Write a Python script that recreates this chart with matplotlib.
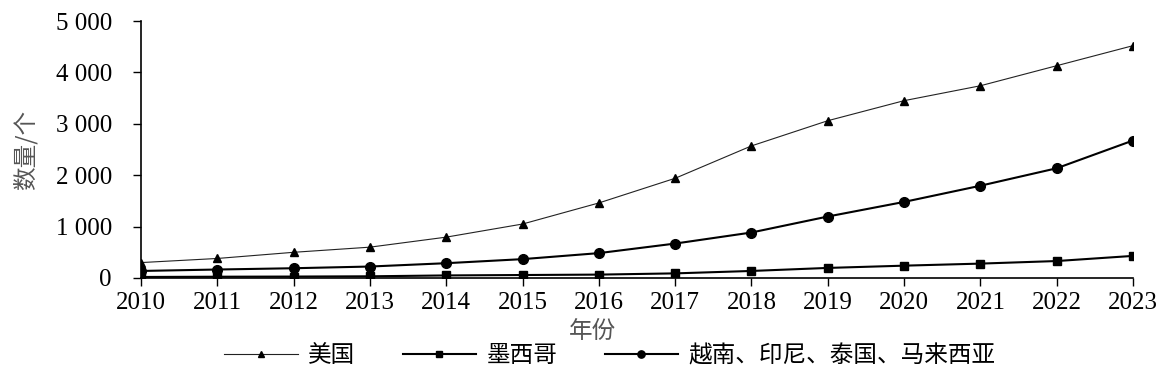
import matplotlib.pyplot as plt
from matplotlib.ticker import FuncFormatter

plt.rcParams['font.family'] = ['Liberation Serif', 'Noto Sans CJK SC']

years = [2010, 2011, 2012, 2013, 2014, 2015, 2016, 2017, 2018, 2019, 2020, 2021, 2022, 2023]
usa = [300, 380, 500, 600, 795, 1050, 1460, 1940, 2570, 3060, 3450, 3740, 4130, 4520]
mexico = [20, 25, 28, 33, 50, 58, 66, 90, 137, 196, 240, 280, 330, 430]
sea = [137, 165, 190, 223, 288, 367, 484, 670, 885, 1196, 1480, 1795, 2135, 2675]
labels = ['美国', '墨西哥', '越南、印尼、泰国、马来西亚']

fig = plt.figure(figsize=(11.61, 3.72), dpi=100)
ax = fig.add_axes([141 / 1161, 1 - 278 / 372, (1133 - 141) / 1161, (278 - 21) / 372])

ax.plot(years, usa, color='#222222', lw=0.8, marker='^', ms=6, mfc='black', mec='black', label=labels[0])
ax.plot(years, mexico, color='black', lw=1.5, marker='s', ms=5.5, label=labels[1])
ax.plot(years, sea, color='black', lw=1.5, marker='o', ms=7, label=labels[2])

ax.set_xlim(2010, 2023)
ax.set_ylim(0, 5000)
ax.set_xticks(years)
ax.set_yticks(range(0, 5001, 1000))
ax.yaxis.set_major_formatter(FuncFormatter(lambda v, p: f'{int(v):,}'.replace(',', ' ')))
ax.tick_params(labelsize=18, length=6, width=1, direction='out', colors='black')
ax.tick_params(axis='x', pad=4)
ax.tick_params(axis='y', pad=15)
for s in ['top', 'right']:
    ax.spines[s].set_visible(False)
for s in ['left', 'bottom']:
    ax.spines[s].set_linewidth(1.2)
ax.patch.set_visible(False)

fig.text(25 / 1161, 1 - 150 / 372, '数量/个', rotation=90, ha='center', va='center',
         fontsize=17, color='#555555', family=['Noto Sans CJK SC'])
fig.text(593 / 1161, 1 - 331 / 372, '年份', ha='center', va='center',
         fontsize=17, color='#555555', family=['Noto Sans CJK SC'])

leg = fig.legend(loc='center', bbox_to_anchor=(610 / 1161, 1 - 356 / 372), ncol=3,
                 frameon=False, handlelength=3.1, handletextpad=0.45, columnspacing=2.0,
                 markerscale=0.75, prop={'family': ['Noto Sans CJK SC'], 'size': 17})

fig.savefig('out.png', dpi=100)
